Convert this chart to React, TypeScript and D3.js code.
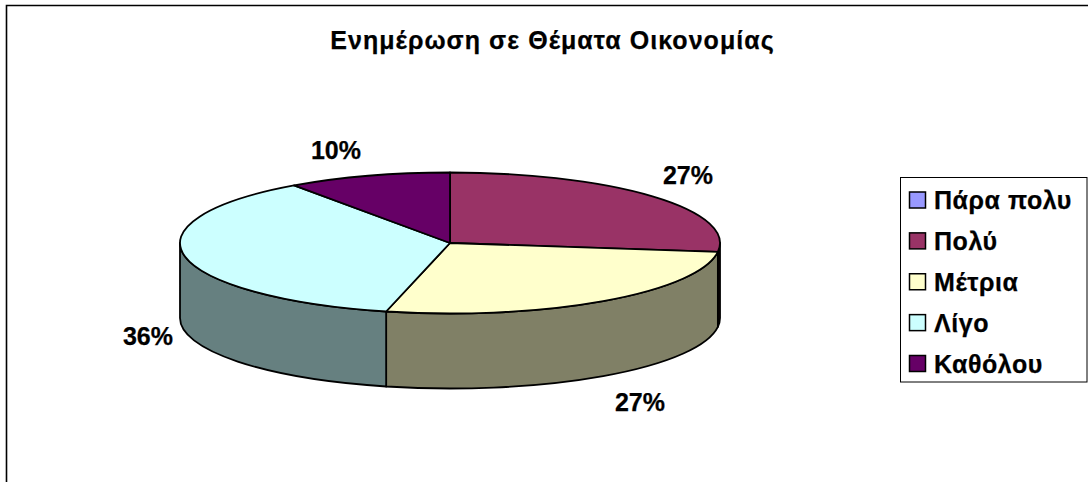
import React from "react";
import * as d3 from "d3";

const categories = ["Πάρα πολυ", "Πολύ", "Μέτρια", "Λίγο", "Καθόλου"];
const values = [0, 27, 26.8, 36.4, 9.8];
const topColors = ["#9999FF", "#993366", "#FFFFCC", "#CCFFFF", "#660066"];
const sideColors = ["#4D4D80", "#4D1A33", "#808066", "#668080", "#330033"];
const percentLabels = ["", "27%", "27%", "36%", "10%"];
const labelAnchors: [number, number][] = [[0, 0], [688, 184], [640, 411], [148, 345], [336, 159]];
const title = "Ενημέρωση σε Θέματα Οικονομίας";

const W = 1088, H = 482;
const cx = 450, cy = 243, rx = 270, ry = 70.5, depth = 75;
const font = "'Liberation Sans', Arial, sans-serif";

const px = (a: number) => cx + rx * Math.sin(a);
const py = (a: number) => cy - ry * Math.cos(a);

function topPath(a0: number, a1: number) {
  const large = a1 - a0 > Math.PI ? 1 : 0;
  return `M${cx},${cy}L${px(a0)},${py(a0)}A${rx},${ry} 0 ${large} 1 ${px(a1)},${py(a1)}Z`;
}

function sidePath(a0: number, a1: number) {
  const s = Math.max(a0, Math.PI / 2);
  const e = Math.min(a1, (3 * Math.PI) / 2);
  if (e <= s) return null;
  return `M${px(s)},${py(s)}A${rx},${ry} 0 0 1 ${px(e)},${py(e)}L${px(e)},${py(e) + depth}A${rx},${ry} 0 0 0 ${px(s)},${py(s) + depth}Z`;
}

export default function App() {
  const arcs = d3.pie<number>().sort(null).value((d) => d)(values);
  const rowY = d3.scalePoint<string>().domain(categories).range([200, 363.5]);
  const ink = { fontFamily: font, fontWeight: 700, fontSize: 25, fill: "#000", stroke: "#000", strokeWidth: 0.25 };
  return (
    <svg width={W} height={H} viewBox={`0 0 ${W} ${H}`} style={{ position: "absolute", left: 0, top: 0, background: "#fff" }}>
      <path d={`M6.5,${H}V5.5H${W}`} fill="none" stroke="#000" strokeWidth={1.6} />
      <text x={552.5} y={48.5} textAnchor="middle" letterSpacing={1.05} {...ink}>{title}</text>

      {arcs.map((a, i) => {
        const d = sidePath(a.startAngle, a.endAngle);
        return d ? <path key={i} d={d} fill={sideColors[i]} stroke="#000" strokeWidth={1.8} strokeLinejoin="round" /> : null;
      })}
      {arcs.map((a, i) =>
        a.endAngle > a.startAngle ? (
          <path key={i} d={topPath(a.startAngle, a.endAngle)} fill={topColors[i]} stroke="#000" strokeWidth={1.8} strokeLinejoin="round" />
        ) : null
      )}

      {percentLabels.map((t, i) =>
        t ? (
          <text key={i} x={labelAnchors[i][0]} y={labelAnchors[i][1]} textAnchor="middle" {...ink}>{t}</text>
        ) : null
      )}

      <rect x={900.5} y={177.5} width={186.5} height={204.5} fill="#fff" stroke="#000" strokeWidth={1} />
      {categories.map((c, i) => {
        const y = rowY(c)!;
        return (
          <g key={c}>
            <rect x={909.5} y={y - 8} width={16} height={16} fill={topColors[i]} stroke="#000" strokeWidth={1.5} />
            <text x={934} y={y + 9} letterSpacing={0.55} {...ink}>{c}</text>
          </g>
        );
      })}
    </svg>
  );
}
